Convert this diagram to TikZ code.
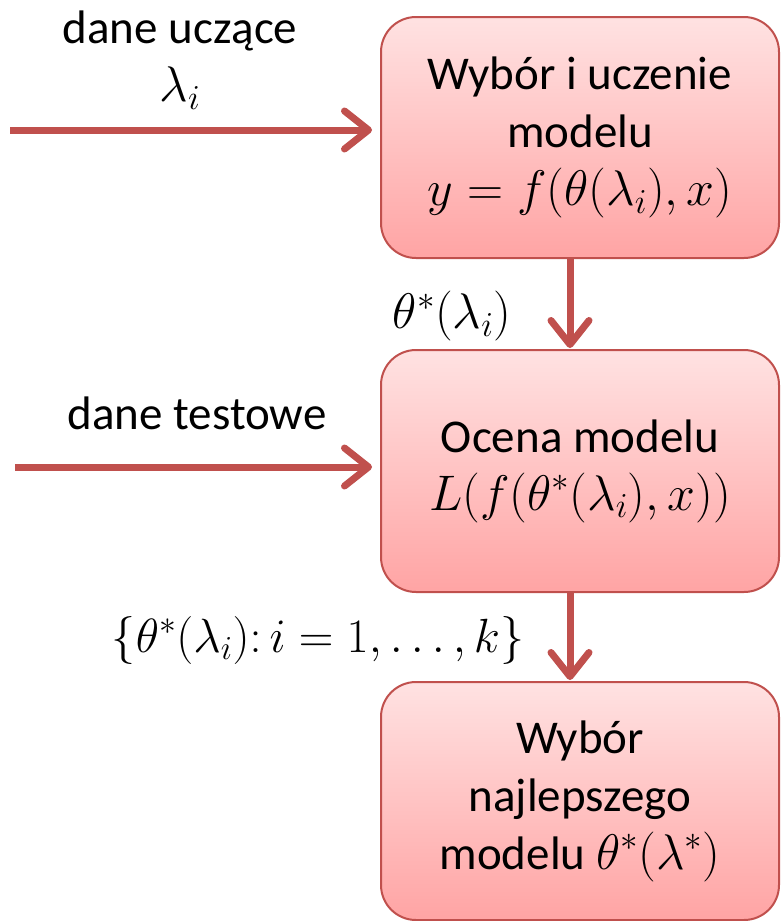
\RequirePackage{fix-cm}
\documentclass[tikz,border=0pt]{standalone}
\usepackage{fontspec}
\setmainfont{Carlito}
\usetikzlibrary{arrows.meta,shadings}
\definecolor{boxred}{RGB}{192,80,77}
\definecolor{boxtop}{RGB}{255,226,226}
\definecolor{boxbot}{RGB}{255,164,164}
\newcommand\mymath[1]{{\fontsize{50}{58}\selectfont$#1$}}
\tikzset{
  flowbox/.style={draw=boxred, line width=2pt, rounded corners=35pt,
    top color=boxtop, bottom color=boxbot, minimum width=398pt,
    align=center, inner sep=0pt, font=\fontsize{47}{58}\selectfont},
  flowarrow/.style={draw=boxred, line width=7pt,
    -{Straight Barb[length=24pt,width=38pt,round]}},
  lbl/.style={align=center, inner sep=0pt, font=\fontsize{47}{58}\selectfont}
}
\begin{document}
\begin{tikzpicture}[x=1pt,y=-1pt]
\useasboundingbox (0,0) rectangle (780,921);
\node[flowbox, minimum height=241pt] (b1) at (580,137.5)
  {Wybór i uczenie\\modelu\\\mymath{y=f(\theta(\lambda_i),x)}};
\node[flowbox, minimum height=242pt] (b2) at (580,471)
  {Ocena modelu\\\mymath{L(f(\theta^{*}(\lambda_i),x))}};
\node[flowbox, minimum height=238pt] (b3) at (580,801)
  {Wybór\\najlepszego\\modelu \mymath{\theta^{*}(\lambda^{*})}};
\coordinate (s1) at (10,130);
\coordinate (s2) at (15,467);
\draw[flowarrow, shorten >=8pt] (s1) -- (s1 -| b1.west);
\draw[flowarrow, shorten >=8pt] (s2) -- (s2 -| b2.west);
\draw[flowarrow, shorten >=1pt] ([xshift=-10pt]b1.south) -- ([xshift=-10pt]b2.north);
\draw[flowarrow, shorten >=1pt] ([xshift=-10pt]b2.south) -- ([xshift=-10pt]b3.north);
\node[lbl] (l1) at (180,60) {dane uczące\\\mymath{\lambda_i}};
\node[lbl] (l2) at (452,316) {\mymath{\theta^{*}(\lambda_i)}};
\node[lbl] (l3) at (197,413) {dane testowe};
\node[lbl] (l4) at (318,640) {{\fontsize{48}{58}\selectfont$\{\theta^{*}(\lambda_i)\colon i=1,\ldots,k\}$}};
\end{tikzpicture}
\end{document}
